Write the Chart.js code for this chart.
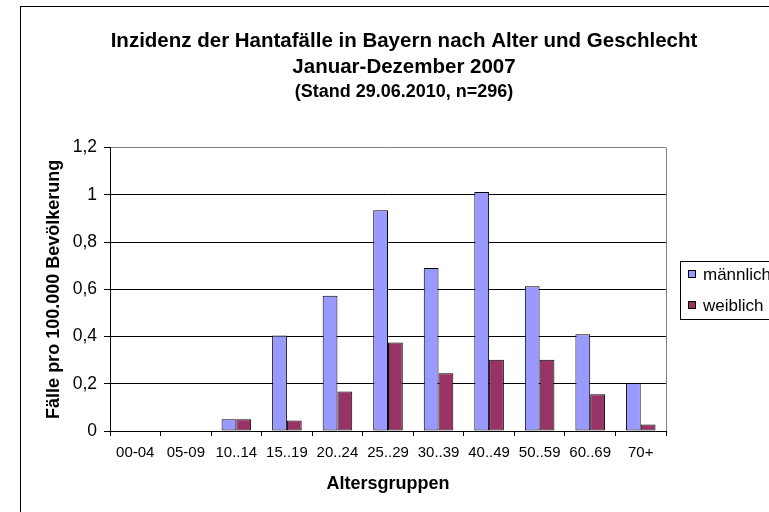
<!DOCTYPE html>
<html>
<head>
<meta charset="utf-8">
<script src="https://cdn.jsdelivr.net/npm/chart.js@4"></script>
<style>
	body { margin: 0; overflow: hidden; background: #fff; }
	#frame { position: absolute; left: 20px; top: 6px; width: 800px; height: 540px; border: 1px solid #000; }
	#box { position: absolute; left: 0; top: 0; width: 766px; height: 505px; }
</style>
</head>
<body>
<div id="frame"><div id="box"><canvas id="chart"></canvas></div></div>
<script>
const ageGroups = ["00-04", "05-09", "10..14", "15..19", "20..24", "25..29", "30..39", "40..49", "50..59", "60..69", "70+"]
const male = [0, 0, 0.05, 0.405, 0.573, 0.935, 0.69, 1.012, 0.613, 0.41, 0.203]
const female = [0, 0, 0.05, 0.044, 0.167, 0.375, 0.245, 0.302, 0.302, 0.156, 0.028]
const seriesNames = ["männlich", "weiblich"]
const yTickLabels = ["0", "0,2", "0,4", "0,6", "0,8", "1", "1,2"]

const font = "'Liberation Sans', Arial, sans-serif"

// plot area frame: grey right edge like the Excel original
const plotFrame = {
	id: "plotFrame",
	beforeDatasetsDraw(chart) {
		let a = chart.chartArea
		let ctx = chart.ctx
		ctx.save()
		ctx.strokeStyle = "#808080"
		ctx.lineWidth = 1
		ctx.beginPath()
		ctx.moveTo(Math.round(a.right) + 0.5, a.top)
		ctx.lineTo(Math.round(a.right) + 0.5, a.bottom)
		ctx.stroke()
		ctx.restore()
	}
}

// boxed legend to the right of the plot
const boxLegend = {
	id: "boxLegend",
	afterDraw(chart) {
		let ctx = chart.ctx
		let x = Math.round(chart.chartArea.right + 14)
		let top = 254
		let rowY = [267, 298]
		ctx.save()
		ctx.strokeStyle = "#000"
		ctx.lineWidth = 1
		ctx.strokeRect(x + 0.5, top + 0.5, 100, 58)
		ctx.font = "17px " + font
		ctx.textBaseline = "middle"
		chart.data.datasets.forEach(function(ds, i) {
			ctx.fillStyle = ds.backgroundColor
			ctx.fillRect(x + 8, rowY[i] - 4, 8, 8)
			ctx.strokeRect(x + 8.5, rowY[i] - 3.5, 7, 7)
			ctx.fillStyle = "#000"
			ctx.fillText(ds.label, x + 23, rowY[i] + 1)
		})
		ctx.restore()
	}
}

let chart = new Chart(document.getElementById("chart"), {
	type: "bar",
	data: {
		labels: ageGroups,
		datasets: [{
			label: seriesNames[0],
			data: male,
			backgroundColor: "#9999FF",
			borderColor: "#000",
			borderWidth: 1,
			borderSkipped: false,
		}, {
			label: seriesNames[1],
			data: female,
			backgroundColor: "#993366",
			borderColor: "#000",
			borderWidth: 1,
			borderSkipped: false,
		}],
	},
	options: {
		animation: false,
		responsive: true,
		maintainAspectRatio: false,
		datasets: {
			bar: {
				categoryPercentage: 0.585,
				barPercentage: 1,
			},
		},
		layout: {
			padding: 0,
		},
		plugins: {
			legend: { display: false },
			tooltip: { enabled: false },
			title: {
				display: true,
				text: ["Inzidenz der Hantafälle in Bayern nach Alter und Geschlecht", "Januar-Dezember 2007"],
				color: "#000",
				font: { family: font, size: 20.5, weight: "bold", lineHeight: 1.27 },
				padding: { top: 21, bottom: 0 },
			},
			subtitle: {
				display: true,
				text: "(Stand 29.06.2010, n=296)",
				color: "#000",
				font: { family: font, size: 18, weight: "bold", lineHeight: 1.2 },
				padding: { top: 1, bottom: 45 },
			},
		},
		scales: {
			x: {
				grid: {
					display: true,
					drawOnChartArea: false,
					color: "#000",
					tickLength: 5,
				},
				border: { color: "#000", width: 1 },
				ticks: {
					color: "#000",
					font: { family: font, size: 15 },
					padding: 8,
					maxRotation: 0,
					autoSkip: false,
				},
				title: {
					display: true,
					text: "Altersgruppen",
					color: "#000",
					font: { family: font, size: 18, weight: "bold", lineHeight: 1.2 },
					padding: { top: 0, bottom: 17 },
				},
				afterFit(scale) {
					scale.height = 81
				},
			},
			y: {
				min: 0,
				max: 1.2,
				grid: {
					color: function(c) {
						return c.tick && c.tick.value > 1.1 ? "#808080" : "#000"
					},
					tickColor: "#000",
					tickLength: 6,
				},
				border: { color: "#000", width: 1 },
				ticks: {
					stepSize: 0.2,
					color: "#000",
					font: { family: font, size: 17.5 },
					padding: 7,
					callback: function(v, i) { return yTickLabels[i] },
				},
				title: {
					display: true,
					text: "Fälle pro 100.000 Bevölkerung",
					color: "#000",
					font: { family: font, size: 18, weight: "bold", lineHeight: 1.2 },
					padding: { top: 22, bottom: 0 },
				},
				afterFit(scale) {
					scale.width = 89
				},
			},
			// empty right axis, keeps room for the legend box
			side: {
				position: "right",
				grid: { display: false },
				border: { display: false },
				ticks: { display: false },
				afterFit(scale) {
					scale.width = 121
				},
			},
		},
	},
	plugins: [plotFrame, boxLegend],
});
</script>
</body>
</html>
